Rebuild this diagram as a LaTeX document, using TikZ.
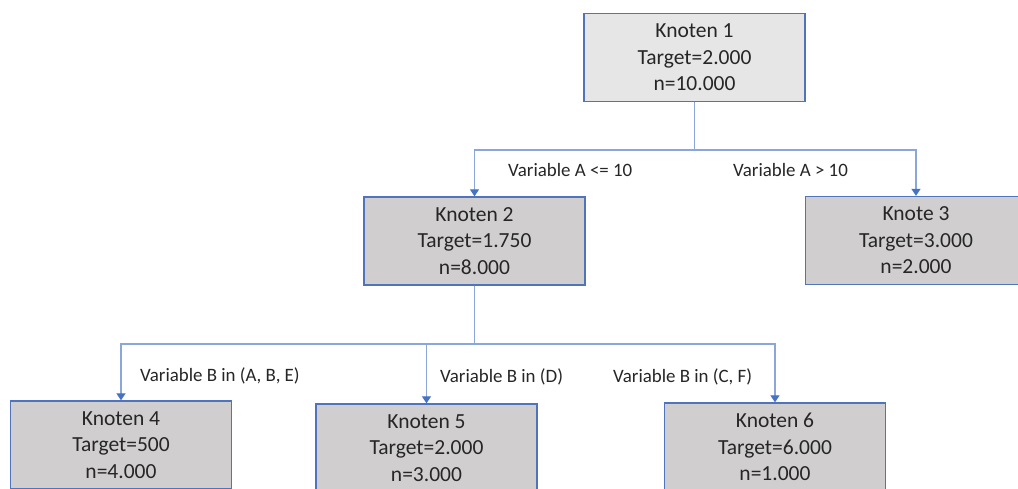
\documentclass[tikz,border=0pt]{standalone}
\usepackage{fontspec}
\setmainfont{Carlito}
\usetikzlibrary{arrows.meta}
\definecolor{boxblue}{HTML}{4F74BC}
\definecolor{lineblue}{HTML}{8AA6DA}
\definecolor{arrblue}{HTML}{4472C4}
\definecolor{fillA}{HTML}{E7E6E6}
\definecolor{fillB}{HTML}{D0CECE}
\definecolor{txt}{HTML}{262626}
\tikzset{
  treebox/.style={draw=boxblue, line width=1.4pt, fill=fillB, text=txt,
    minimum width=221pt, minimum height=88pt, inner sep=0pt, align=center,
    font=\fontsize{21.5}{26.5}\selectfont},
  conn/.style={draw=lineblue, line width=1.3pt},
  arr/.style={conn, -{Triangle[width=9pt,length=7pt,color=arrblue]}},
  lbl/.style={anchor=west, inner sep=0pt, text=txt, font=\fontsize{18.9}{22}\selectfont}
}
\begin{document}
\begin{tikzpicture}[x=1pt,y=-1pt]
\useasboundingbox (0,0) rectangle (1018,489);
\clip (0,0) rectangle (1018,489);
\fill[white] (0,0) rectangle (1018,489);
\node[treebox, fill=fillA] (n1) at (694.5,57.5) {Knoten 1\\Target=2.000\\n=10.000};
\node[treebox] (n2) at (474.5,241) {Knoten 2\\Target=1.750\\n=8.000};
\node[treebox] (n3) at (916,240.5) {Knote 3\\Target=3.000\\n=2.000};
\node[treebox] (n4) at (121,445) {Knoten 4\\Target=500\\n=4.000};
\node[treebox] (n5) at (426.5,448) {Knoten 5\\Target=2.000\\n=3.000};
\node[treebox] (n6) at (775,447) {Knoten 6\\Target=6.000\\n=1.000};
\coordinate (b1) at (694.5,150);
\coordinate (b2) at (474.5,344);
\draw[conn] (n1.south) -- (b1);
\draw[arr] (b1) -| (n2.north);
\draw[arr] (b1) -| (n3.north);
\draw[conn] (n2.south) -- (b2);
\draw[arr] (b2) -| (n4.north);
\draw[arr] (b2) -| (n6.north);
\draw[arr] (b2) -| (n5.north);
\node[lbl] (l1) at (508,170) {Variable A <= 10};
\node[lbl] (l2) at (733,170) {Variable A > 10};
\node[lbl] (l3) at (140,376) {Variable B in (A, B, E)};
\node[lbl] (l4) at (440,377) {Variable B in (D)};
\node[lbl] (l5) at (613,377) {Variable B in (C, F)};
\end{tikzpicture}
\end{document}
